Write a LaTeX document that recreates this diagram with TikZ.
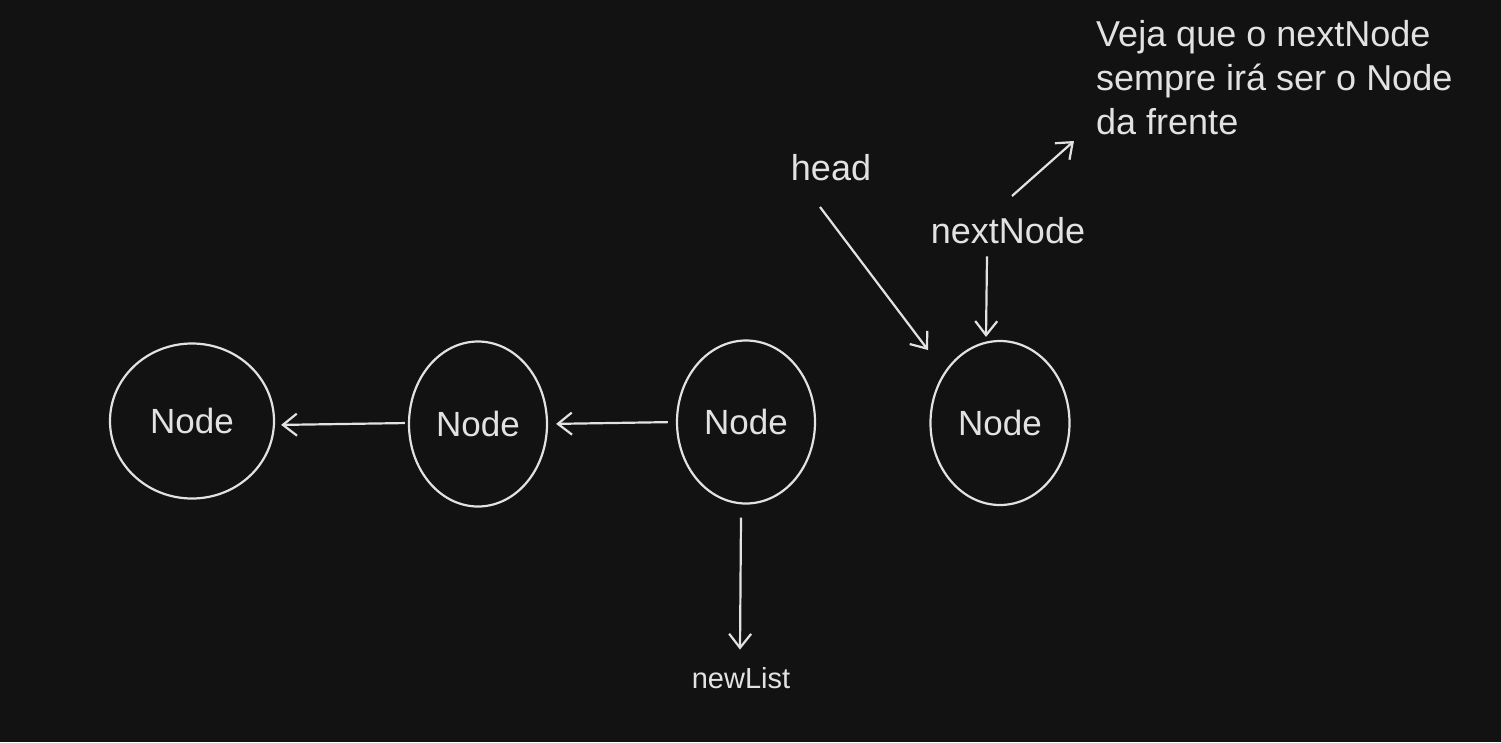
\documentclass[tikz,border=0pt]{standalone}
\usepackage{fontspec}
\setmainfont{Liberation Sans}
\usetikzlibrary{arrows.meta,shapes.geometric}
\definecolor{bg}{HTML}{121212}
\definecolor{ink}{HTML}{E2E2E2}
\begin{document}
\begin{tikzpicture}[x=1pt,y=-1pt,
  lnode/.style={draw=ink,line width=2.2pt,ellipse,inner sep=0pt,text=ink,font=\fontsize{35}{38}\selectfont},
  lbl/.style={text=ink,inner sep=0pt,font=\fontsize{36}{44}\selectfont},
  arr/.style={draw=ink,line width=2.2pt,-{Straight Barb[length=14pt,width=22pt,line width=2.2pt]}}]
\fill[bg] (0,0) rectangle (1501,742);
\useasboundingbox (0,0) rectangle (1501,742);
\node[lnode,minimum width=164pt,minimum height=155pt] (n1) at (192,421) {Node};
\node[lnode,minimum width=138pt,minimum height=165pt] (n2) at (478,424) {Node};
\node[lnode,minimum width=138pt,minimum height=163pt] (n3) at (746,422) {Node};
\node[lnode,minimum width=139pt,minimum height=164pt] (n4) at (1000,423) {Node};
\node[lbl] (head) at (831,168) {head};
\node[lbl] (nn) at (1008,231) {nextNode};
\node[lbl,font=\fontsize{29}{32}\selectfont] (nl) at (741,678) {newList};
\node[lbl,anchor=north west,align=left] (note) at (1096,20) {Veja que o nextNode\\sempre irá ser o Node\\da frente};
\coordinate (hs) at (820,207);
\coordinate (he) at (928,350);
\coordinate (ns) at (1012,196);
\coordinate (ne) at (1074,141);
\draw[arr,shorten <=3pt,shorten >=6pt] ([yshift=1pt]n2.west) -- ([yshift=-4pt]n1.east);
\draw[arr,shorten <=8pt,shorten >=8pt] (n3.west) -- (n2.east);
\draw[arr] ([xshift=-5pt,yshift=-13pt]n3.south) -- ([xshift=-6pt,yshift=-145pt]n3.south);
\draw[arr] (hs) -- (he);
\draw[arr] ([xshift=-21pt,yshift=-12pt]nn.south) -- ([xshift=-14pt,yshift=3pt]n4.north);
\draw[arr] (ns) -- (ne);
\end{tikzpicture}
\end{document}
